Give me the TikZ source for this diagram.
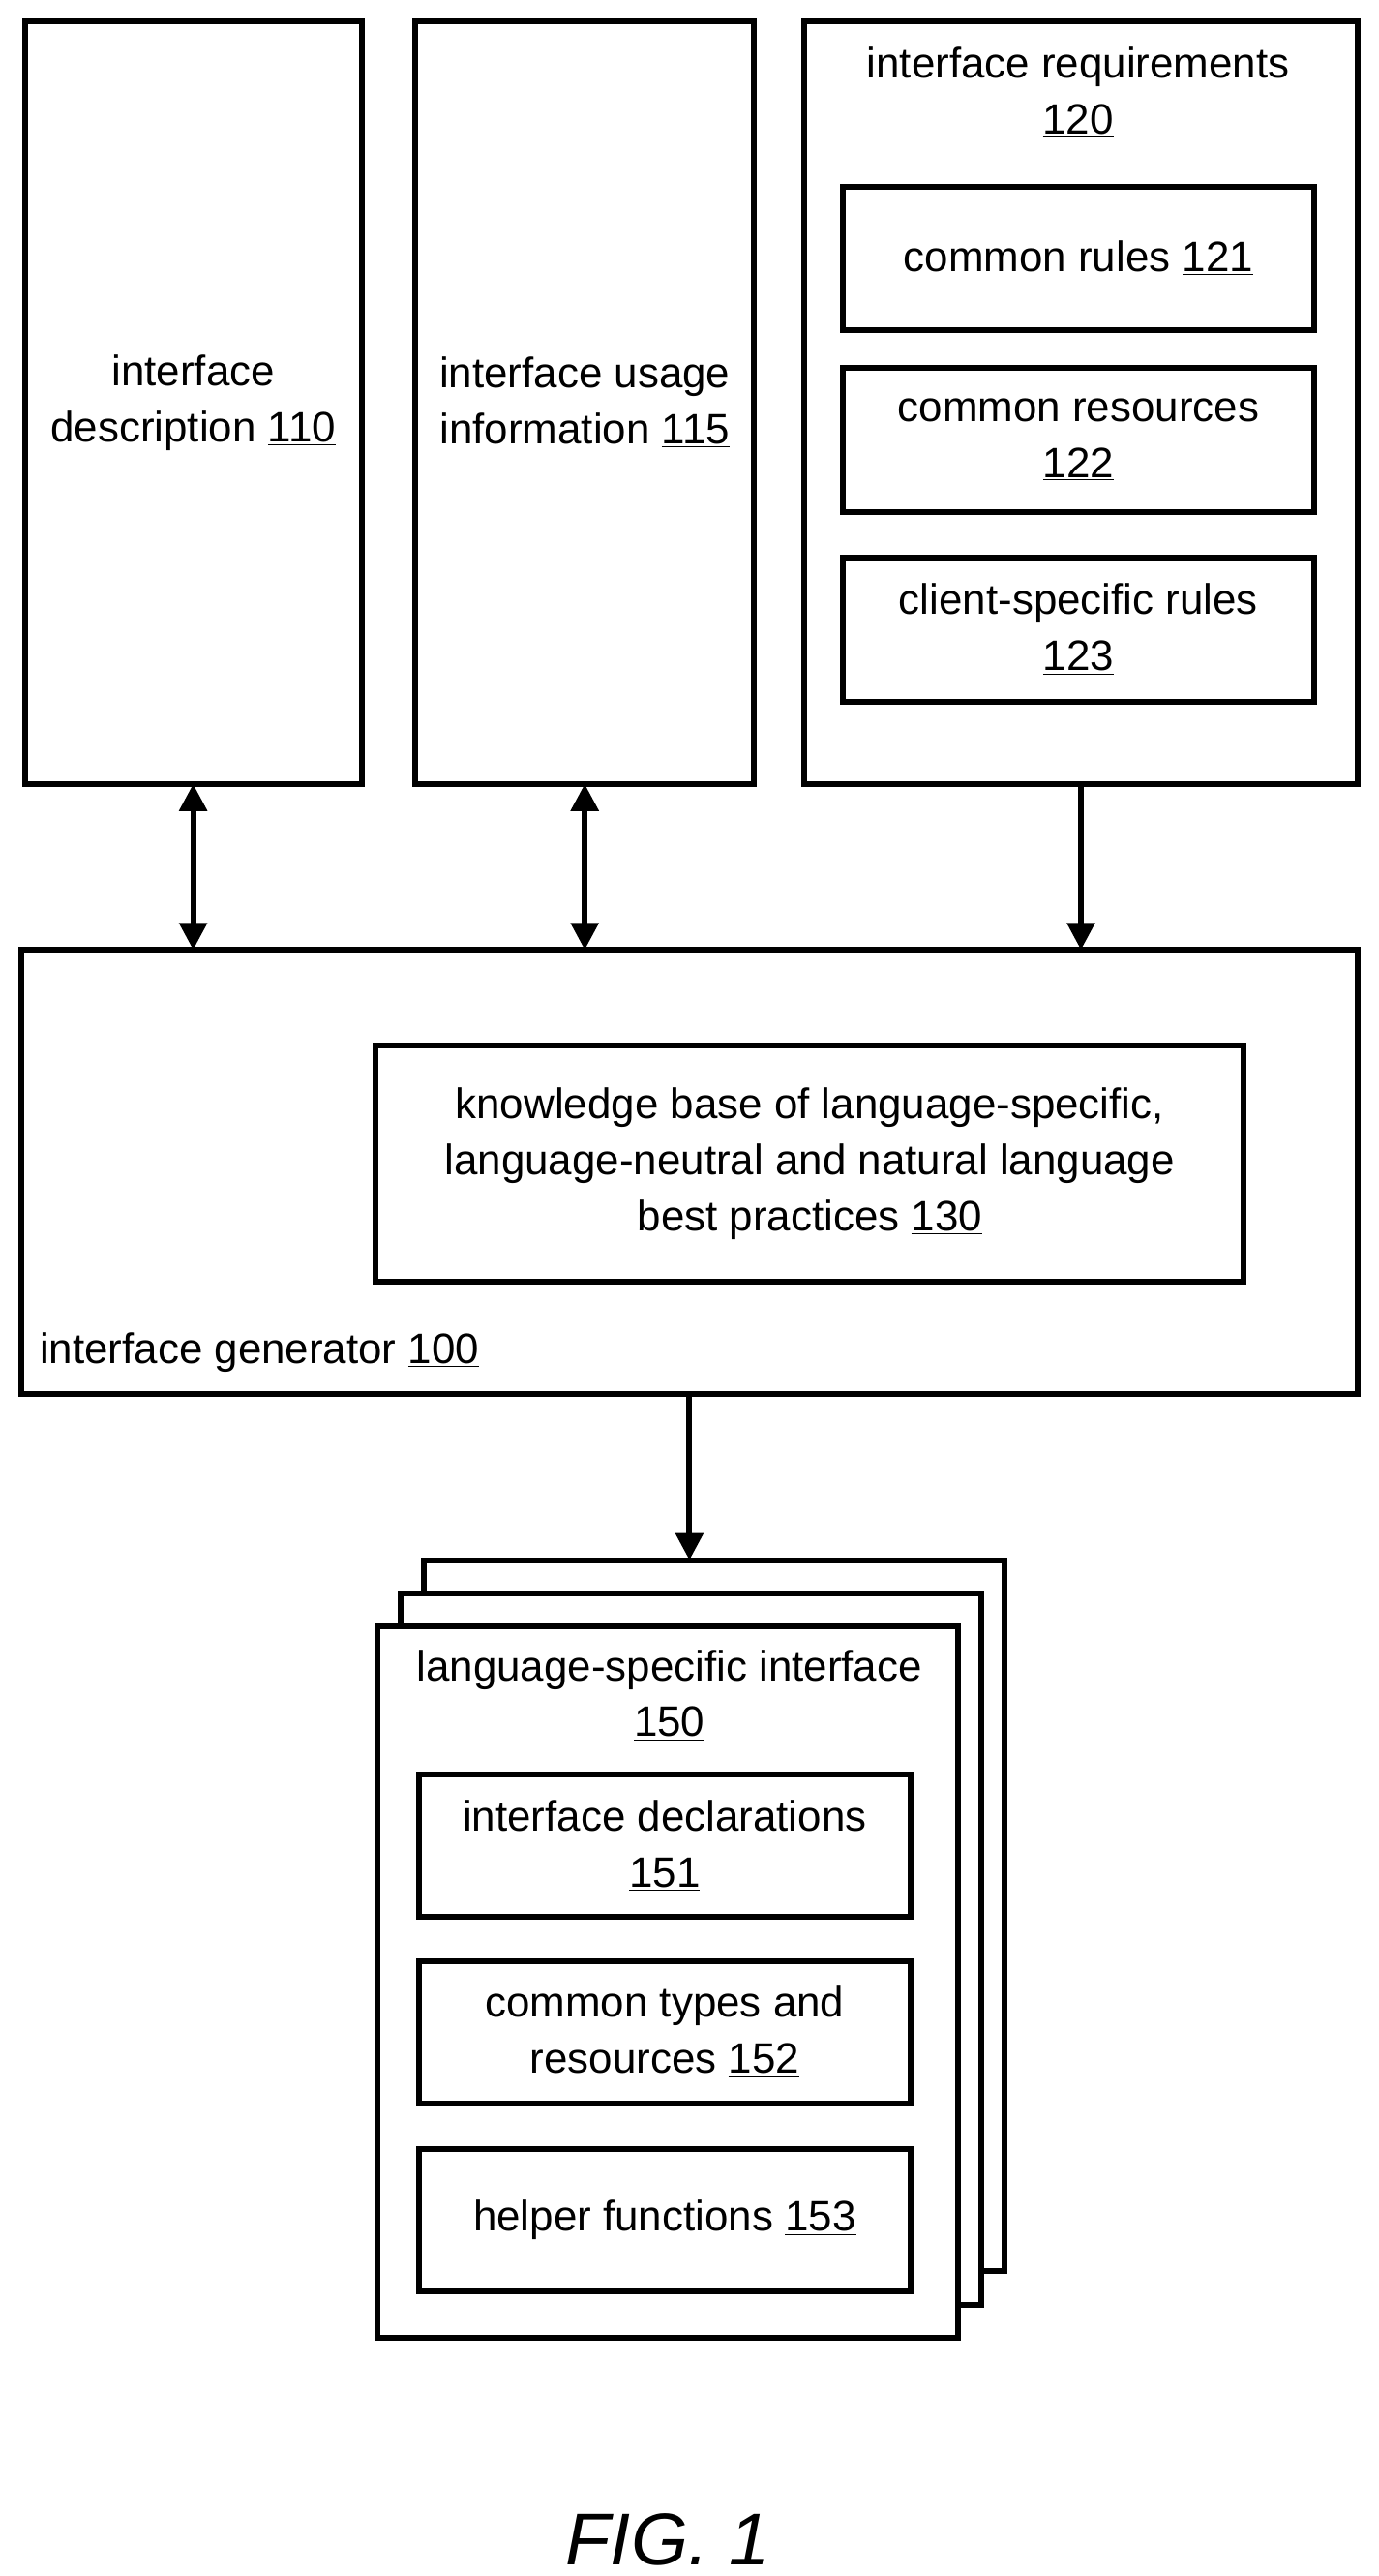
\documentclass[tikz,border=0pt]{standalone}
\usepackage{fontspec}
\setmainfont{Liberation Sans}
\usetikzlibrary{arrows.meta}
\tikzset{
  box/.style={draw, line width=3pt, anchor=north west, inner sep=0pt, outer sep=0pt},
  lbl/.style={align=center, font=\fontsize{22}{29}\selectfont},
  arr/.style={line width=3pt, -{Triangle[length=14pt,width=14pt]}},
  darr/.style={line width=3pt, {Triangle[length=14pt,width=14pt]}-{Triangle[length=14pt,width=14pt]}}
}
\newcommand{\un}[1]{\underline{#1}}
\begin{document}
\begin{tikzpicture}[x=0.03cm,y=-0.03cm]
\useasboundingbox (0,0) rectangle (836,1562);
% top row
\node[box, minimum width=6.13cm, minimum height=13.87cm] (desc) at (15,13) {};
\node[lbl] at (desc.center) {interface\\description \un{110}};
\node[box, minimum width=6.16cm, minimum height=13.87cm] (usage) at (252,13) {};
\node[lbl] at (usage.center) {interface usage\\information \un{115}};
\node[box, minimum width=10.06cm, minimum height=13.87cm] (req) at (488,13) {};
\node[lbl] (reqt) at (654,56) {interface requirements\\\un{120}};
\node[box, minimum width=8.59cm, minimum height=2.62cm] (rules) at (511,113) {};
\node[lbl] at (rules.center) {common rules \un{121}};
\node[box, minimum width=8.59cm, minimum height=2.62cm] (res) at (511,223) {};
\node[lbl] at (res.center) {common resources\\\un{122}};
\node[box, minimum width=8.59cm, minimum height=2.62cm] (client) at (511,338) {};
\node[lbl] at (client.center) {client-specific rules\\\un{123}};
% generator
\node[box, minimum width=24.31cm, minimum height=8.08cm] (gen) at (13,576) {};
\node[lbl, anchor=west] at (20,820) {interface generator \un{100}};
\node[box, minimum width=15.79cm, minimum height=4.3cm] (kb) at (228,634) {};
\node[lbl] at (kb.center) {knowledge base of language-specific,\\language-neutral and natural language\\best practices \un{130}};
\draw[darr] (desc.south) -- (desc.south |- gen.north);
\draw[darr] (usage.south) -- (usage.south |- gen.north);
\draw[arr] (req.south) -- (req.south |- gen.north);
% stacked output
\node[box, fill=white, minimum width=10.57cm, minimum height=12.94cm] (back) at (257,946) {};
\node[box, fill=white, minimum width=10.57cm, minimum height=12.94cm] (mid) at (243,966) {};
\node[box, fill=white, minimum width=10.57cm, minimum height=12.94cm] (front) at (229,986) {};
\node[lbl] at (406,1028) {language-specific interface\\\un{150}};
\node[box, minimum width=8.95cm, minimum height=2.59cm] (decl) at (254,1076) {};
\node[lbl] at (decl.center) {interface declarations\\\un{151}};
\node[box, minimum width=8.95cm, minimum height=2.59cm] (types) at (254,1189) {};
\node[lbl] at (types.center) {common types and\\resources \un{152}};
\node[box, minimum width=8.95cm, minimum height=2.59cm] (help) at (254,1303) {};
\node[lbl] at (help.center) {helper functions \un{153}};
\draw[arr] (gen.south) -- (gen.south |- back.north);
\node[font=\fontsize{38}{40}\selectfont\itshape] (fig) at (405,1540) {FIG. 1};
\end{tikzpicture}
\end{document}
